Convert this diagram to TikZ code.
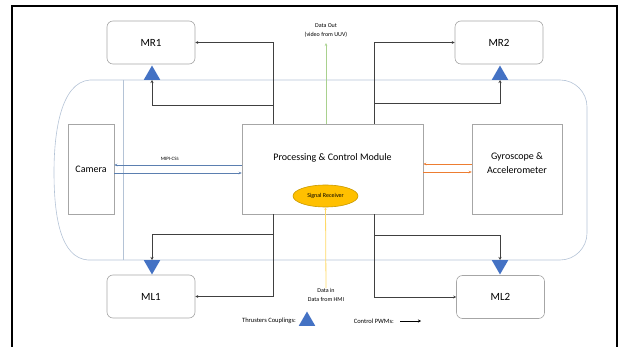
\documentclass[tikz,border=0pt]{standalone}
\usepackage{fontspec}
\setmainfont{Carlito}
\usetikzlibrary{arrows.meta,shapes.geometric}

\definecolor{boxgray}{HTML}{A6A6A6}
\definecolor{hullblue}{HTML}{B4C3D6}
\definecolor{thrblue}{HTML}{4472C4}
\definecolor{wiregray}{HTML}{404040}
\definecolor{mipiblue}{HTML}{5B7FB0}
\definecolor{gyroorange}{HTML}{ED7D31}
\definecolor{outgreen}{HTML}{A9D18E}
\definecolor{inyellow}{HTML}{FFD966}
\definecolor{srgold}{HTML}{FFC000}
\definecolor{srline}{HTML}{C99A00}

\tikzset{
	motor/.style={draw=boxgray, line width=0.6pt, rounded corners=6pt,
		minimum width=88pt, minimum height=43pt, font=\fontsize{11}{13}\selectfont},
	unit/.style={draw=boxgray, line width=0.5pt, inner sep=0pt},
	thruster/.style={regular polygon, regular polygon sides=3, fill=thrblue,
		inner sep=0pt, minimum size=19pt},
	pwm/.style={draw=wiregray, line width=0.8pt, -{Stealth[length=3pt,width=3pt]}},
	small/.style={font=\fontsize{6}{9}\selectfont, align=center, inner sep=0pt}
}

\begin{document}
\begin{tikzpicture}[x=1pt,y=-1pt]

	\useasboundingbox (0,0) rectangle (623,347);

	% frame
	\draw[line width=2pt] (12,347) -- (12,6) -- (617,6) -- (617,347);

	% hull outline
	\draw[hullblue, line width=0.6pt] (90,80) -- (560,80) arc (-90:0:27) -- (587,233)
		arc (0:90:27) -- (88,260) .. controls (60,258) and (54,215) .. (54,172)
		.. controls (54,135) and (60,82) .. (90,80);
	\draw[hullblue, line width=0.6pt] (123,80) -- (123,260);

	% motors
	\node[motor] (mr1) at (151,42.5) {MR1};
	\node[motor] (mr2) at (499,42.5) {MR2};
	\node[motor] (ml1) at (151,296.5) {ML1};
	\node[motor] (ml2) at (500.5,297) {ML2};

	\node[thruster, anchor=side 2] (tmr1) at (152,80) {};
	\node[thruster, anchor=side 2] (tmr2) at (500,80) {};
	\node[thruster, shape border rotate=180, anchor=side 2] (tml1) at (152,260) {};
	\node[thruster, shape border rotate=180, anchor=side 2] (tml2) at (500,260) {};

	% units
	\node[unit, minimum width=46pt, minimum height=90pt,
		font=\fontsize{10}{12}\selectfont] (cam) at (91,169) {Camera};
	\node[unit, minimum width=181pt, minimum height=90pt] (pcm) at (332.5,169) {};
	\node[font=\fontsize{10}{12}\selectfont, inner sep=0pt] (pcmtext) at (332.5,158)
		{Processing \& Control Module};
	\node[unit, minimum width=90pt, minimum height=90pt] (gyro) at (517,169) {};
	\node[font=\fontsize{10}{14}\selectfont, align=center, inner sep=0pt] (gyrotext)
		at (517,163) {Gyroscope \&\\Accelerometer};
	\node[ellipse, draw=srline, fill=srgold, line width=0.6pt, minimum width=65pt,
		minimum height=22pt, inner sep=0pt, font=\fontsize{6}{7}\selectfont]
		(sr) at (325.5,196) {Signal Receiver};

	% control PWMs
	\coordinate (jl) at (273,105);
	\coordinate (jr) at (374,103);
	\coordinate (jl2) at (273,234);
	\coordinate (jr2) at (374,235);
	\draw[pwm] (pcm.north -| jl) |- (mr1.east);
	\draw[pwm] (jl) -| (tmr1.side 2);
	\draw[pwm] (pcm.north -| jr) |- (mr2.west);
	\draw[pwm] (jr) -| (tmr2.side 2);
	\draw[pwm] (pcm.south -| jl2) |- (ml1.east);
	\draw[pwm] (jl2) -| (tml1.side 2);
	\draw[pwm] (pcm.south -| jr2) |- (ml2.west);
	\draw[pwm] (jr2) -| (tml2.side 2);

	% camera link
	\node[font=\fontsize{5}{6}\selectfont, inner sep=0pt] (mipi) at (170,159) {MIPI-CSI:};
	\draw[mipiblue, line width=0.6pt, -{Stealth[length=3pt,width=2.5pt]}]
		([yshift=4pt]pcm.west) -- ([yshift=4pt]cam.east);
	\draw[mipiblue, line width=0.6pt, -{Stealth[length=3pt,width=2.5pt]}]
		([yshift=-4pt]cam.east) -- ([yshift=-4pt]pcm.west);

	% gyro link
	\draw[gyroorange, line width=0.6pt, -{Stealth[length=3pt,width=2.5pt]}]
		([yshift=5pt]gyro.west) -- ([yshift=5pt]pcm.east);
	\draw[gyroorange, line width=0.6pt, -{Stealth[length=3pt,width=2.5pt]}]
		([yshift=-3pt]pcm.east) -- ([yshift=-3pt]gyro.west);

	% data out / data in
	\node[small] (dout) at (326,30) {Data Out\\(video from UUV)};
	\coordinate (douttip) at (326,43);
	\draw[outgreen, line width=0.8pt, -{Stealth[length=3pt,width=2.5pt]}]
		(pcm.north -| douttip) -- (douttip);
	\node[small] (din) at (326,295) {Data in\\Data from HMI};
	\draw[inyellow, line width=0.8pt, -{Stealth[length=2.5pt,width=2.5pt]}]
		(din.north) -- (sr.south);

	% legend
	\node[font=\fontsize{6.5}{8}\selectfont, anchor=east, inner sep=0pt] (lgthr)
		at (296,321) {Thrusters Couplings:};
	\node[thruster, anchor=side 2] (lgtri) at (307,326) {};
	\node[font=\fontsize{6.5}{8}\selectfont, anchor=east, inner sep=0pt] (lgpwm)
		at (394,321) {Control PWMs:};
	\coordinate (lga) at (400,321);
	\coordinate (lgb) at (421,321);
	\draw[pwm, draw=black] (lga) -- (lgb);

\end{tikzpicture}
\end{document}
